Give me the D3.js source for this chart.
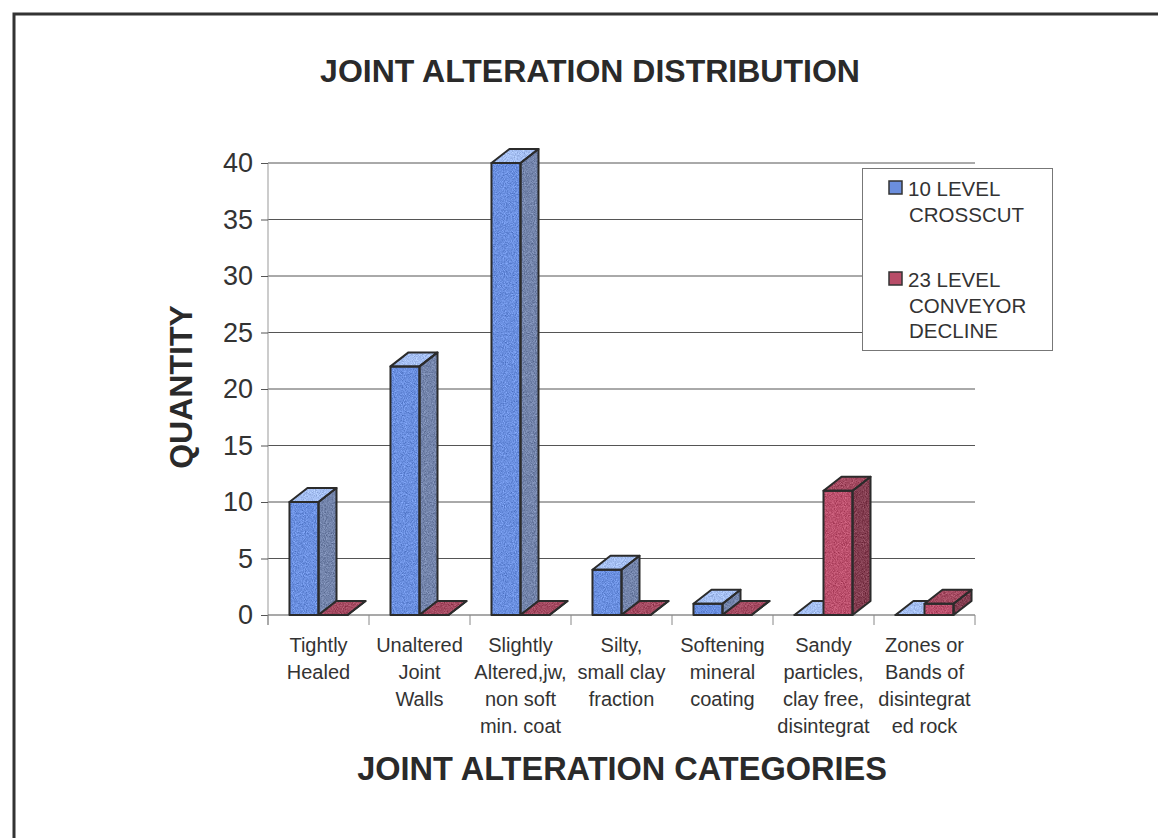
<!DOCTYPE html>
<html>
<head>
<meta charset="utf-8">
<script src="https://cdn.jsdelivr.net/npm/d3@7"></script>
<style>
  html, body { margin: 0; padding: 0; background: #fff; }
  svg { display: block; font-family: "Liberation Sans", Arial, sans-serif; }
</style>
</head>
<body>
<svg id="chart" width="1158" height="838"></svg>
<script>
// Category labels, one array of lines per category
const categories = [
  ["Tightly", "Healed"],
  ["Unaltered", "Joint", "Walls"],
  ["Slightly", "Altered,jw,", "non soft", "min. coat"],
  ["Silty,", "small clay", "fraction"],
  ["Softening", "mineral", "coating"],
  ["Sandy", "particles,", "clay free,", "disintegrat"],
  ["Zones or", "Bands of", "disintegrat", "ed rock"]
];
const seriesNames = ["10 LEVEL CROSSCUT", "23 LEVEL CONVEYOR DECLINE"];
const legendLines = [["10 LEVEL", "CROSSCUT"], ["23 LEVEL", "CONVEYOR", "DECLINE"]];
const crosscut = [10, 22, 40, 4, 1, 0, 0];
const conveyorDecline = [0, 0, 0, 0, 0, 11, 1];
const yTicks = [0, 5, 10, 15, 20, 25, 30, 35, 40];

const chartTitle = "JOINT ALTERATION DISTRIBUTION";
const xTitle = "JOINT ALTERATION CATEGORIES";
const yTitle = "QUANTITY";

// face colours per series: front, side, top
const palette = [
  { front: "#6a8fe0", side: "#7384ab", top: "#a5bff2", swatch: "#6b8edd" },
  { front: "#bc506d", side: "#843e51", top: "#a44a61", swatch: "#b84d68" }
];

const svg = d3.select("#chart");
const plot = { left: 268, right: 975, top: 163, bottom: 615 };
const depth = { dx: 18, dy: -14 };

// speckled texture for the bar faces: source colour plus a little centred gray noise
const defs = svg.append("defs");
const grain = defs.append("filter").attr("id", "grain")
  .attr("color-interpolation-filters", "sRGB")
  .attr("filterUnits", "userSpaceOnUse").attr("x", 0).attr("y", 0).attr("width", 1158).attr("height", 838);
grain.append("feTurbulence").attr("type", "fractalNoise").attr("baseFrequency", 1.1)
  .attr("numOctaves", 2).attr("seed", 5).attr("result", "noise");
grain.append("feColorMatrix").attr("in", "noise").attr("type", "saturate").attr("values", 0).attr("result", "gray");
const ct = grain.append("feComponentTransfer").attr("in", "gray").attr("result", "contrast");
["feFuncR", "feFuncG", "feFuncB"].forEach(f => ct.append(f).attr("type", "linear").attr("slope", 1.6).attr("intercept", -0.3));
ct.append("feFuncA").attr("type", "linear").attr("slope", 0).attr("intercept", 1);
grain.append("feComposite").attr("in", "SourceGraphic").attr("in2", "contrast").attr("operator", "arithmetic")
  .attr("k1", 0).attr("k2", 1).attr("k3", 0.3).attr("k4", -0.15).attr("result", "mix");
grain.append("feComposite").attr("in", "mix").attr("in2", "SourceAlpha").attr("operator", "in");

// outer frame (top and left edges)
svg.append("path")
  .attr("d", "M14,838 L14,14 L1158,14")
  .attr("fill", "none").attr("stroke", "#333").attr("stroke-width", 3);

const y = d3.scaleLinear().domain([0, 40]).range([plot.bottom, plot.top]);
const x = d3.scaleBand().domain(d3.range(categories.length)).range([plot.left, plot.right]).padding(0);
const xs = d3.scaleBand().domain([0, 1]).range([0, x.bandwidth()]).paddingInner(0).paddingOuter(0.74);

// horizontal gridlines
svg.append("g").selectAll("line").data(yTicks.filter(d => d > 0)).join("line")
  .attr("x1", plot.left).attr("x2", plot.right)
  .attr("y1", d => y(d)).attr("y2", d => y(d))
  .attr("stroke", "#555").attr("stroke-width", 1);

// y axis
const yAxis = svg.append("g").attr("transform", `translate(${plot.left},0)`)
  .call(d3.axisLeft(y).tickValues(yTicks).tickSize(7).tickPadding(8));
yAxis.select(".domain").attr("stroke", "#999").attr("d", `M0,${plot.top}V${plot.bottom + 10}`);
yAxis.selectAll(".tick line").attr("stroke", "#555");
yAxis.selectAll("text").attr("font-size", 27).attr("fill", "#333")
  .attr("font-family", "'Liberation Sans', Arial, sans-serif");

// x axis baseline and category ticks
const xAxis = svg.append("g").attr("transform", `translate(0,${plot.bottom})`);
xAxis.append("line").attr("x1", plot.left).attr("x2", plot.right)
  .attr("stroke", "#555").attr("stroke-width", 1.2);
xAxis.selectAll("line.tick").data(d3.range(categories.length + 1)).join("line")
  .attr("class", "tick")
  .attr("x1", i => plot.left + i * x.step()).attr("x2", i => plot.left + i * x.step())
  .attr("y1", 0).attr("y2", 10).attr("stroke", "#888");

// category labels
const catLabels = svg.append("g").attr("font-size", 20).attr("fill", "#333").attr("text-anchor", "middle");
categories.forEach((lines, i) => {
  const t = catLabels.append("text").attr("x", x(i) + x.bandwidth() / 2).attr("y", 652);
  lines.forEach((ln, k) => t.append("tspan").attr("x", x(i) + x.bandwidth() / 2).attr("dy", k === 0 ? 0 : 27).text(ln));
});

// 3D bars: side, top, then front face for each series, left to right
const bars = [];
categories.forEach((_, i) => {
  [crosscut, conveyorDecline].forEach((vals, s) => {
    bars.push({ cat: i, s, v: vals[i] });
  });
});
const barLayer = svg.append("g");
bars.forEach(b => {
  const x0 = x(b.cat) + xs(b.s), x1 = x0 + xs.bandwidth();
  const y0 = y(0), y1 = y(b.v);
  const c = palette[b.s];
  const faces = [
    { fill: c.side, d: `M${x1},${y0}L${x1 + depth.dx},${y0 + depth.dy}L${x1 + depth.dx},${y1 + depth.dy}L${x1},${y1}Z` },
    { fill: c.top, d: `M${x0},${y1}L${x0 + depth.dx},${y1 + depth.dy}L${x1 + depth.dx},${y1 + depth.dy}L${x1},${y1}Z` },
    { fill: c.front, d: `M${x0},${y0}L${x0},${y1}L${x1},${y1}L${x1},${y0}Z` }
  ];
  const g = barLayer.append("g");
  g.append("g").attr("filter", "url(#grain)").selectAll("path").data(faces).join("path")
    .attr("fill", f => f.fill).attr("d", f => f.d);
  g.append("g").selectAll("path").data(faces).join("path")
    .attr("fill", "none").attr("d", f => f.d)
    .attr("stroke", "#2b2b2b").attr("stroke-width", 2).attr("stroke-linejoin", "round");
});

// legend
const legend = svg.append("g");
legend.append("rect").attr("x", 862.5).attr("y", 168.5).attr("width", 190).attr("height", 182)
  .attr("fill", "#fff").attr("stroke", "#777").attr("stroke-width", 1);
const legendTop = [196, 287];
seriesNames.forEach((name, s) => {
  legend.append("rect").attr("x", 889).attr("y", legendTop[s] - 15).attr("width", 13).attr("height", 13)
    .attr("fill", palette[s].swatch).attr("stroke", "#333").attr("stroke-width", 1.5);
  const t = legend.append("text").attr("font-size", 20.5).attr("fill", "#333").attr("y", legendTop[s]);
  legendLines[s].forEach((ln, k) => t.append("tspan").attr("x", k === 0 ? 908 : 909).attr("dy", k === 0 ? 0 : 25.5).text(ln));
});

// titles
svg.append("text").attr("x", 590).attr("y", 82).attr("text-anchor", "middle")
  .attr("font-size", 32).attr("font-weight", "bold").attr("fill", "#2a2a2a").text(chartTitle);
svg.append("text").attr("x", 622).attr("y", 780).attr("text-anchor", "middle")
  .attr("font-size", 32.5).attr("font-weight", "bold").attr("fill", "#2a2a2a").text(xTitle);
svg.append("text").attr("transform", "translate(192,387) rotate(-90)").attr("text-anchor", "middle")
  .attr("font-size", 32).attr("font-weight", "bold").attr("fill", "#2a2a2a").text(yTitle);
</script>
</body>
</html>
